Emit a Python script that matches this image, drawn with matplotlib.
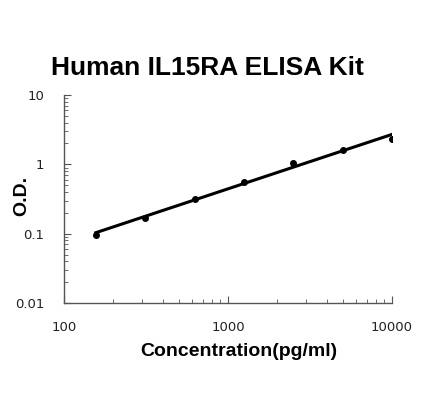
import numpy as np
import matplotlib
matplotlib.use("Agg")
import matplotlib.pyplot as plt
from matplotlib.ticker import LogLocator, FixedLocator, FixedFormatter

# standard curve data
conc = [156.25, 312.5, 625, 1250, 2500, 5000, 10000]
od = [0.097, 0.170, 0.320, 0.550, 1.050, 1.600, 2.350]

# power fit in log space
k, b = np.polyfit(np.log10(conc), np.log10(od), 1)
fit_x = np.array([conc[0], conc[-1]])
fit_y = 10 ** (k * np.log10(fit_x) + b)

W, H = 421, 420
fig = plt.figure(figsize=(W / 100, H / 100), dpi=100)
ax = fig.add_axes([64 / W, 1 - 303 / H, 328 / W, 208 / H])

ax.plot(fit_x, fit_y, color='black', lw=2.2, zorder=2)
ax.scatter(conc, od, color='black', s=16, zorder=3)

ax.set_xscale('log')
ax.set_yscale('log')
ax.set_xlim(100, 10000)
ax.set_ylim(0.01, 10)

ax.xaxis.set_major_locator(FixedLocator([100, 1000, 10000]))
ax.xaxis.set_major_formatter(FixedFormatter(['100', '1000', '10000']))
ax.yaxis.set_major_locator(FixedLocator([0.01, 0.1, 1, 10]))
ax.yaxis.set_major_formatter(FixedFormatter(['0.01', '0.1', '1', '10']))
ax.xaxis.set_minor_locator(LogLocator(base=10, subs=np.arange(2, 10)))
ax.yaxis.set_minor_locator(LogLocator(base=10, subs=np.arange(2, 10)))

for s in ['top', 'right']:
    ax.spines[s].set_visible(False)
for s in ['left', 'bottom']:
    ax.spines[s].set_color('#555555')
    ax.spines[s].set_linewidth(1.0)

ax.tick_params(which='both', direction='in', colors='#555555', labelcolor='#222222', labelsize=9.5)
ax.tick_params(which='major', length=5)
ax.tick_params(which='minor', length=3)
ax.tick_params(axis='x', which='major', pad=13)
ax.tick_params(axis='y', which='major', pad=14)

fig.text(207 / W, 1 - 68 / H, 'Human IL15RA ELISA Kit', family='Liberation Sans',
         fontsize=19, fontweight='bold', ha='center', va='center')
fig.text(239 / W, 1 - 352 / H, 'Concentration(pg/ml)', family='Liberation Sans',
         fontsize=14, fontweight='bold', ha='center', va='center')
fig.text(22 / W, 1 - 196 / H, 'O.D.', family='Liberation Sans', fontsize=14,
         fontweight='bold', ha='center', va='center', rotation=90)

fig.savefig('out.png', dpi=100)
